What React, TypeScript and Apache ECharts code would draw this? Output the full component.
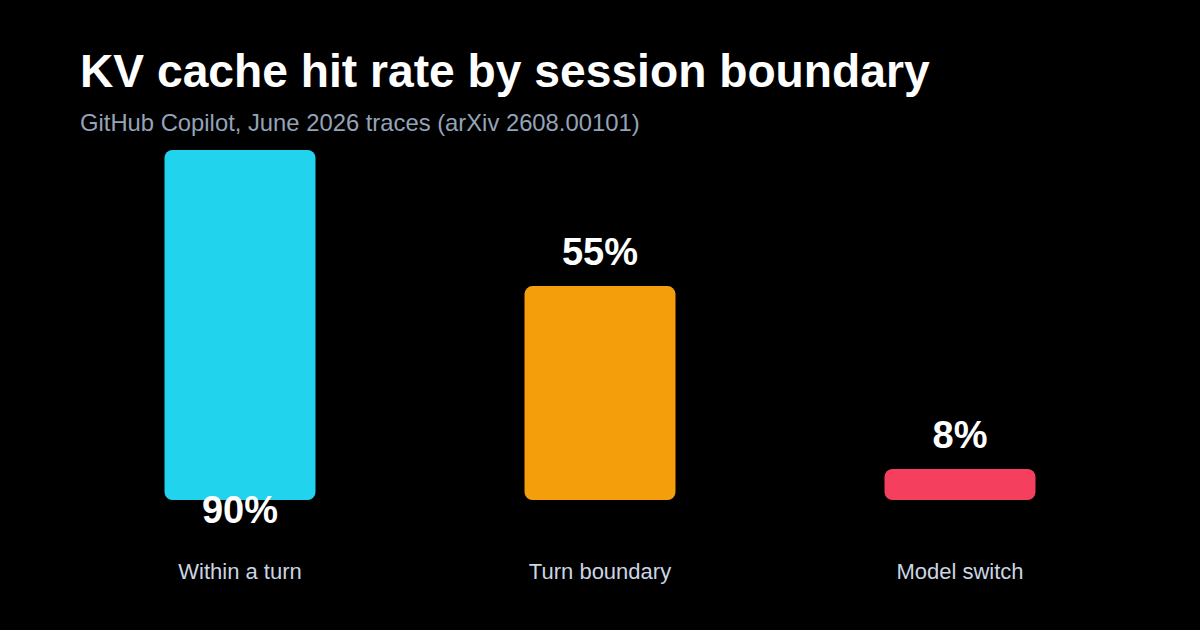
import React, { useEffect, useRef } from 'react';
import * as echarts from 'echarts';

const categories = ['Within a turn', 'Turn boundary', 'Model switch'];
const hitRates = [90, 55, 8];
const barColors = ['#22d3ee', '#f59e0b', '#f43f5e'];

const FONT = '"Liberation Sans", Arial, Helvetica, sans-serif';

const App: React.FC = () => {
	const chartContainer = useRef<HTMLDivElement | null>(null);

	useEffect(() => {
		if (!chartContainer.current) return;
		const chart = echarts.init(chartContainer.current, null, { renderer: 'svg' });

		const option = {
			animation: false,
			backgroundColor: '#000000',
			textStyle: { fontFamily: FONT },
			title: [
				{
					text: 'KV cache hit rate by session boundary',
					left: 80,
					top: 48,
					padding: 0,
					textStyle: { color: '#ffffff', fontSize: 46.2, fontWeight: 'bold', fontFamily: FONT },
				},
				{
					text: 'GitHub Copilot, June 2026 traces (arXiv 2608.00101)',
					left: 80,
					top: 110,
					padding: 0,
					textStyle: { color: '#94a3b8', fontSize: 23.8, fontWeight: 'normal', fontFamily: FONT },
				},
			],
			grid: { left: 60, right: 60, top: 150, bottom: 130 },
			xAxis: {
				type: 'category',
				data: categories,
				axisLine: { show: false },
				axisTick: { show: false },
				axisLabel: { color: '#cbd5e1', fontSize: 22, margin: 60, fontFamily: FONT },
			},
			yAxis: {
				type: 'value',
				min: 0,
				max: 90,
				show: false,
				splitLine: { show: false },
			},
			series: [
				{
					type: 'bar',
					barWidth: 151,
					data: hitRates.map((v, i) => ({
						value: v,
						itemStyle: { color: barColors[i], borderRadius: 8 },
						label:
							i === 0
								? { position: 'bottom', distance: -9 }
								: { position: 'top', distance: 15 },
					})),
					label: {
						show: true,
						formatter: '{c}%',
						color: '#ffffff',
						fontSize: 38,
						fontWeight: 'bold',
						fontFamily: FONT,
					},
				},
			],
		};

		chart.setOption(option as any);

		return () => {
			chart.dispose();
		};
	}, []);

	return (
		<div
			ref={chartContainer}
			style={{ position: 'fixed', left: 0, top: 0, width: '1200px', height: '630px' }}
		/>
	);
};

export default App;
